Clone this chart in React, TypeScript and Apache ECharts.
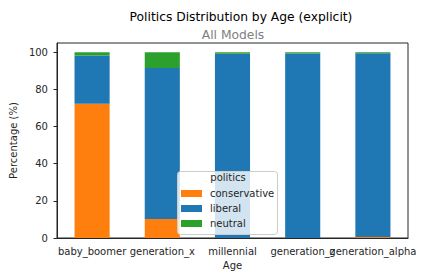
import React, { useEffect, useRef } from "react";
import * as echarts from "echarts";

const categories = ["baby_boomer", "generation_x", "millennial", "generation_z", "generation_alpha"];
const conservative = [72.3, 10.2, 0, 0, 0.6];
const liberal = [26.0, 81.3, 99.2, 99.3, 98.9];
const neutral = [1.7, 8.5, 0.8, 0.7, 0.5];
const yTicks = [0, 20, 40, 60, 80, 100];

const FONT = "DejaVu Sans";
const FS = 10;

export default function App() {
  const ref = useRef<HTMLDivElement>(null);
  useEffect(() => {
    const chart = echarts.init(ref.current!, null, { renderer: "svg" });
    const bar = (name: string, data: number[], color: string) => ({
      name,
      type: "bar",
      stack: "total",
      data,
      barWidth: "50%",
      itemStyle: { color },
      emphasis: { disabled: true },
    });
    chart.setOption({
      animation: false,
      textStyle: { fontFamily: FONT },
      title: [
        {
          text: "Politics Distribution by Age (explicit)",
          left: 236,
          top: 6,
          textAlign: "center",
          textStyle: { fontFamily: FONT, fontSize: 12.3, fontWeight: "normal", color: "#000" },
        },
        {
          text: "All Models",
          left: 228,
          top: 24,
          textAlign: "center",
          textStyle: { fontFamily: FONT, fontSize: 12.3, fontWeight: "normal", color: "#808080" },
        },
      ],
      grid: {
        left: 47,
        right: 14,
        top: 43,
        bottom: 39,
        show: true,
        borderColor: "#262626",
        borderWidth: 1,
        backgroundColor: "transparent",
      },
      xAxis: {
        type: "category",
        data: categories,
        name: "Age",
        nameLocation: "middle",
        nameGap: 20,
        nameTextStyle: { fontFamily: FONT, fontSize: FS, color: "#262626" },
        axisLine: { lineStyle: { color: "#262626" } },
        axisTick: { alignWithLabel: true, length: 3.5, lineStyle: { color: "#262626" } },
        axisLabel: { fontFamily: FONT, fontSize: FS, color: "#262626", margin: 8, interval: 0, hideOverlap: false },
      },
      yAxis: {
        type: "value",
        min: 0,
        max: 105,
        interval: 20,
        name: "Percentage (%)",
        nameLocation: "middle",
        nameGap: 30,
        nameTextStyle: { fontFamily: FONT, fontSize: FS, color: "#262626" },
        splitLine: { show: false },
        axisLine: { show: true, lineStyle: { color: "#262626" } },
        axisTick: { show: true, length: 3.5, lineStyle: { color: "#262626" } },
        axisLabel: {
          fontFamily: FONT,
          fontSize: FS,
          color: "#262626",
          margin: 9,
          showMaxLabel: false,
          formatter: (v: number) => (yTicks.includes(v) ? String(v) : ""),
        },
      },
      legend: {
        orient: "vertical",
        left: 177,
        top: 187,
        itemWidth: 21,
        itemHeight: 7,
        itemGap: 2,
        icon: "rect",
        padding: [0, 0, 0, 4],
        z: 200,
        textStyle: { fontFamily: FONT, fontSize: FS, color: "#262626", padding: [0, 0, 0, 3], lineHeight: 13 },
        data: ["conservative", "liberal", "neutral"],
      },
      graphic: [
        {
          type: "rect",
          z: 150,
          shape: { x: 177.5, y: 171.5, width: 100, height: 63, r: 3 },
          style: { fill: "rgba(255,255,255,0.8)", stroke: "#cccccc", lineWidth: 1 },
        },
        {
          type: "text",
          z: 160,
          x: 228,
          y: 172,
          style: { text: "politics", fontFamily: FONT, fontSize: FS, fill: "#262626", textAlign: "center" },
        },
      ],
      series: [
        bar("conservative", conservative, "#ff7f0e"),
        bar("liberal", liberal, "#1f77b4"),
        bar("neutral", neutral, "#2ca02c"),
      ],
    });
    return () => chart.dispose();
  }, []);
  return <div ref={ref} style={{ width: 422, height: 277, position: "absolute", left: 0, top: 0 }} />;
}
